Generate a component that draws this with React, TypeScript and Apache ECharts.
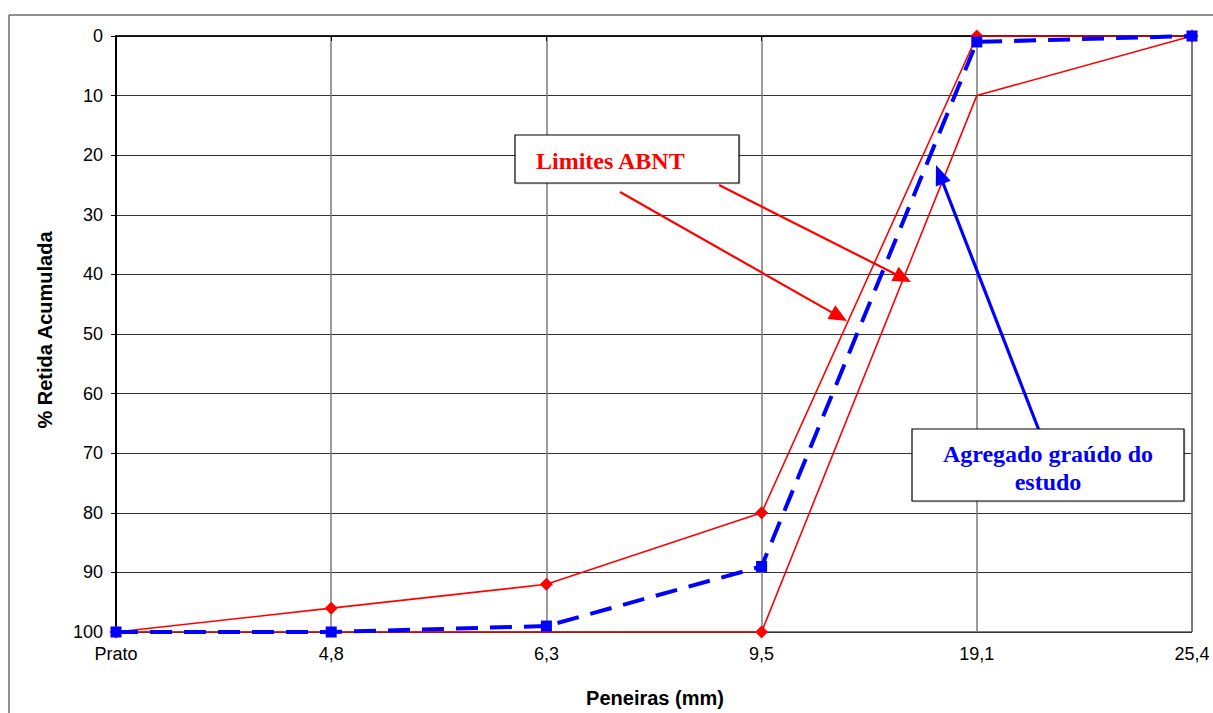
import React, { useEffect, useRef } from "react";
import * as echarts from "echarts";

const categories = ["Prato", "4,8", "6,3", "9,5", "19,1", "25,4"];
const limiteSuperior = [100, 96, 92, 80, 0, 0];
const limiteInferior = [100, 100, 100, 100, 10, 0];
const limiteInferiorMarcadores = [false, false, false, true, false, false];
const agregado = [100, 100, 99, 89, 1, 0];
const yTicks = { min: 0, max: 100, interval: 10 };

const SERIF = "'Liberation Serif', 'Times New Roman', serif";
const SANS = "'Liberation Sans', Arial, sans-serif";

function arrow(sx: number, sy: number, tx: number, ty: number, color: string, width: number, headLen: number, headHalf: number) {
  const dx = tx - sx;
  const dy = ty - sy;
  const len = Math.sqrt(dx * dx + dy * dy);
  const ux = dx / len;
  const uy = dy / len;
  const bx = tx - ux * headLen;
  const by = ty - uy * headLen;
  const px = -uy;
  const py = ux;
  return [
    {
      type: "line",
      shape: { x1: sx, y1: sy, x2: bx + ux * 2, y2: by + uy * 2 },
      style: { stroke: color, lineWidth: width },
      z: 100,
    },
    {
      type: "polygon",
      shape: {
        points: [
          [tx, ty],
          [bx + px * headHalf, by + py * headHalf],
          [bx - px * headHalf, by - py * headHalf],
        ],
      },
      style: { fill: color },
      z: 100,
    },
  ];
}

export default function App() {
  const ref = useRef<HTMLDivElement>(null);
  useEffect(() => {
    if (!ref.current) return;
    const chart = echarts.init(ref.current, null, { renderer: "svg" });
    const option: any = {
      animation: false,
      backgroundColor: "#fff",
      grid: {
        left: 116,
        right: 21,
        top: 36,
        bottom: 81,
        show: true,
        borderColor: "#000",
        borderWidth: 1,
        backgroundColor: "transparent",
      },
      xAxis: {
        type: "category",
        data: categories,
        boundaryGap: false,
        axisLine: { show: true, lineStyle: { color: "#000", width: 1.5 } },
        axisTick: { show: true, length: 5, inside: false, lineStyle: { color: "#000" }, alignWithLabel: true },
        axisLabel: { color: "#000", fontFamily: SANS, fontSize: 18, margin: 13 },
        splitLine: { show: true, lineStyle: { color: "#7a7a7a", width: 1.5 } },
      },
      yAxis: {
        type: "value",
        inverse: true,
        min: yTicks.min,
        max: yTicks.max,
        interval: yTicks.interval,
        axisLine: { show: true, lineStyle: { color: "#000", width: 2 } },
        axisTick: { show: true, length: 5, inside: false, lineStyle: { color: "#000" } },
        axisLabel: { color: "#000", fontFamily: SANS, fontSize: 18, margin: 13 },
        splitLine: { show: true, lineStyle: { color: "#333", width: 1.2 } },
      },
      series: [
        {
          name: "Limite inferior",
          type: "line",
          data: limiteInferior.map((v, i) => ({
            value: v,
            symbol: limiteInferiorMarcadores[i] ? "diamond" : "none",
          })),
          symbol: "diamond",
          symbolSize: 13,
          itemStyle: { color: "#ff0000" },
          lineStyle: { color: "#ff0000", width: 1.6 },
          z: 3,
        },
        {
          name: "Limite superior",
          type: "line",
          data: limiteSuperior,
          symbol: "diamond",
          symbolSize: 13,
          showAllSymbol: true,
          itemStyle: { color: "#ff0000" },
          lineStyle: { color: "#ff0000", width: 1.6 },
          z: 3,
        },
        {
          name: "Agregado graúdo do estudo",
          type: "line",
          data: agregado,
          symbol: "rect",
          symbolSize: 11,
          showAllSymbol: true,
          itemStyle: { color: "#0000ff" },
          lineStyle: { color: "#0000ff", width: 4, type: [22, 12] },
          z: 4,
        },
      ],
      graphic: [
        {
          type: "rect",
          shape: { x: 9, y: 15, width: 1220, height: 720 },
          style: { fill: "none", stroke: "#222", lineWidth: 1 },
          silent: true,
          z: 0,
        },
        {
          type: "text",
          x: 45,
          y: 330,
          rotation: Math.PI / 2,
          style: {
            text: "% Retida Acumulada",
            fontFamily: SANS,
            fontWeight: "bold",
            fontSize: 20,
            fill: "#000",
            align: "center",
            verticalAlign: "middle",
          },
        },
        {
          type: "text",
          x: 655,
          y: 698,
          style: {
            text: "Peneiras (mm)",
            fontFamily: SANS,
            fontWeight: "bold",
            fontSize: 20,
            fill: "#000",
            align: "center",
            verticalAlign: "middle",
          },
        },
        ...arrow(620, 192, 847, 321, "#ff0000", 2.2, 18, 8),
        ...arrow(719, 185, 911, 282, "#ff0000", 2.2, 18, 8),
        ...arrow(1040, 433, 936, 165, "#0000ff", 3.2, 20, 8),
        {
          type: "rect",
          shape: { x: 515, y: 135, width: 224, height: 48 },
          style: {
            fill: "#fff",
            stroke: "#000",
            lineWidth: 1.2,
            shadowColor: "rgba(0,0,0,0.15)",
            shadowOffsetX: 1,
            shadowOffsetY: 1,
            shadowBlur: 0,
          },
          z: 110,
        },
        {
          type: "text",
          x: 536,
          y: 161,
          style: {
            text: "Limites ABNT",
            fontFamily: SERIF,
            fontWeight: "bold",
            fontSize: 24,
            fill: "#ff0000",
            align: "left",
            verticalAlign: "middle",
          },
          z: 111,
        },
        {
          type: "rect",
          shape: { x: 912, y: 429, width: 272, height: 72 },
          style: {
            fill: "#fff",
            stroke: "#000",
            lineWidth: 1.2,
            shadowColor: "rgba(0,0,0,0.15)",
            shadowOffsetX: 1,
            shadowOffsetY: 1,
            shadowBlur: 0,
          },
          z: 110,
        },
        {
          type: "text",
          x: 1048,
          y: 468,
          style: {
            text: "Agregado graúdo do\nestudo",
            fontFamily: SERIF,
            fontWeight: "bold",
            fontSize: 24,
            lineHeight: 28,
            fill: "#0000ff",
            align: "center",
            verticalAlign: "middle",
          },
          z: 111,
        },
      ],
    };
    chart.setOption(option);
    return () => chart.dispose();
  }, []);
  return (
    <div
      ref={ref}
      style={{ position: "fixed", left: 0, top: 0, width: 1213, height: 713, background: "#fff" }}
    />
  );
}
